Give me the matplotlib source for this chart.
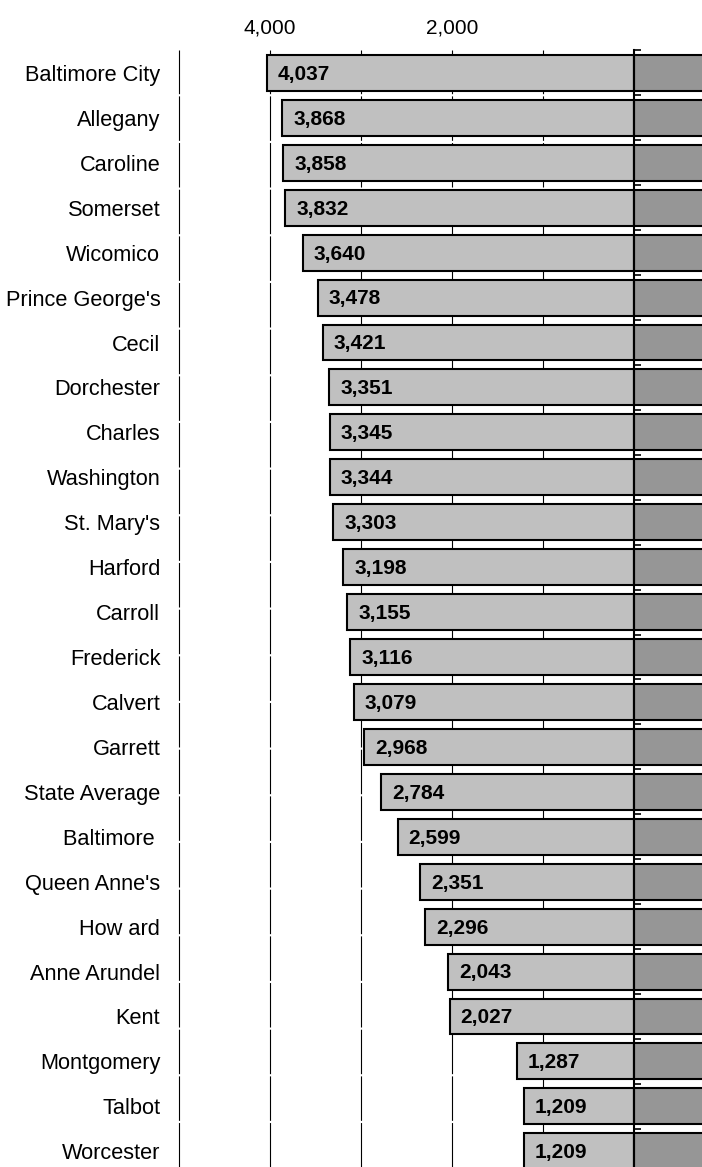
import matplotlib
matplotlib.use("Agg")
import matplotlib.pyplot as plt

plt.rcParams["font.family"] = ["Liberation Sans", "DejaVu Sans"]

counties = ["Baltimore City", "Allegany", "Caroline", "Somerset", "Wicomico",
            "Prince George's", "Cecil", "Dorchester", "Charles", "Washington",
            "St. Mary's", "Harford", "Carroll", "Frederick", "Calvert",
            "Garrett", "State Average", "Baltimore ", "Queen Anne's", "How ard",
            "Anne Arundel", "Kent", "Montgomery", "Talbot", "Worcester"]
left_values = [4037, 3868, 3858, 3832, 3640, 3478, 3421, 3351, 3345, 3344,
               3303, 3198, 3155, 3116, 3079, 2968, 2784, 2599, 2351, 2296,
               2043, 2027, 1287, 1209, 1209]
# right-hand series runs past the cropped edge of the picture
right_values = [1000, 1000, 1000, 1000, 1000, 1000, 1000, 1000, 1000, 1000,
                1000, 1000, 1000, 1000, 1000, 1000, 1000, 1000, 1000, 1000,
                1000, 1000, 1000, 1000, 1000]
grid_ticks = [5000, 4000, 3000, 2000, 1000]
grid_labels = ["", "4,000", "", "2,000", ""]

fig = plt.figure(figsize=(7.02, 11.67), dpi=100)
ax = fig.add_axes([177 / 702, 0.0, 525 / 702, 1 - 50 / 1167])

pos = list(range(len(counties)))
ax.barh(pos, left_values, height=0.8, color="#c0c0c0",
        edgecolor="black", linewidth=1.5, zorder=3)
ax.barh(pos, [-v for v in right_values], height=0.8, color="#969696",
        edgecolor="black", linewidth=1.5, zorder=3)

for p, v in zip(pos, left_values):
    ax.annotate(f"{v:,}", xy=(v, p), xytext=(8, -1), textcoords="offset points",
                ha="left", va="center", fontsize=15, fontweight="bold", zorder=4)

ax.set_xlim(5022, -747)
ax.set_ylim(24.35, -0.51)

ax.xaxis.tick_top()
ax.set_xticks(grid_ticks)
ax.set_xticklabels(grid_labels)
ax.tick_params(axis="x", length=0, pad=9, labelsize=15)
ax.grid(axis="x", color="black", linewidth=0.8, linestyle=(0, (40, 2)), zorder=1)

ax.set_yticks(pos)
ax.set_yticklabels(counties)
ax.set_yticks([p - 0.5 for p in pos], minor=True)
ax.tick_params(axis="y", which="major", length=0, pad=12, labelsize=15.7,
               left=False, right=False)
ax.tick_params(axis="y", which="minor", left=False, right=True,
               direction="out", length=5, width=1.2)

for s in ["top", "bottom", "left"]:
    ax.spines[s].set_visible(False)
ax.spines["right"].set_position(("data", 0))
ax.spines["right"].set_linewidth(1.5)
ax.spines["right"].set_zorder(5)

fig.savefig("out.png", dpi=100)
